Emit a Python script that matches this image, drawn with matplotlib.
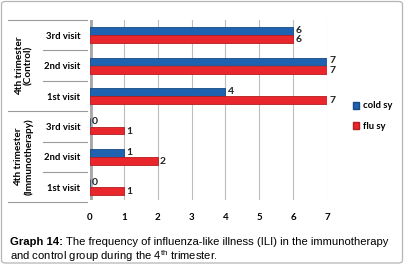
import matplotlib
matplotlib.use("Agg")
import matplotlib.pyplot as plt
import matplotlib.transforms as mtransforms
from matplotlib.patches import FancyBboxPatch, Patch
import numpy as np

plt.rcParams["mathtext.fontset"] = "custom"
plt.rcParams["mathtext.rm"] = "Liberation Sans"

# ---- data ----
visits = ["1st visit", "2nd visit", "3rd visit", "1st visit", "2nd visit", "3rd visit"]  # bottom -> top
groups = ["4th trimester\n(Immunotherapy)", "4th trimester\n(Control)"]
cold_sy = [0, 1, 0, 4, 7, 6]
flu_sy = [1, 2, 1, 7, 7, 6]
xticks = [0, 1, 2, 3, 4, 5, 6, 7]

W, H = 404, 273
fig = plt.figure(figsize=(W / 100, H / 100), dpi=100)
ax = fig.add_axes([90 / W, 1 - 200 / H, (327 - 90) / W, 180 / H])

blue = "#1f62b0"
red = "#e8262b"
y = np.arange(len(visits))
bh = 0.26
off = 0.135
ax.barh(y + off, cold_sy, height=bh, color=blue, edgecolor="#174a85", linewidth=0.6, zorder=3)
ax.barh(y - off, flu_sy, height=bh, color=red, edgecolor="#b51c20", linewidth=0.6, zorder=3)

lab_font = "Lato"
for yi, v in zip(y, cold_sy):
    ax.text(v + 0.06, yi + off + 0.02, str(v), va="center", ha="left", fontsize=7.5,
            family=lab_font, fontweight="bold", color="#222222")
for yi, v in zip(y, flu_sy):
    ax.text(v + 0.06, yi - off - 0.02, str(v), va="center", ha="left", fontsize=7.5,
            family=lab_font, fontweight="bold", color="#222222")

ax.set_xlim(0, 7)
ax.set_ylim(-0.42, 5.5)
ax.set_xticks(xticks)
ax.set_xticklabels([str(t) for t in xticks], fontsize=7, family=lab_font, fontweight="bold")
ax.set_yticks(y)
ax.set_yticklabels(visits, fontsize=6.8, family=lab_font, fontweight="bold")
ax.tick_params(axis="x", length=0, pad=9)
ax.tick_params(axis="y", length=0, pad=7)
for s in ax.spines.values():
    s.set_visible(False)
ax.grid(axis="x", color="#bdbdbd", linewidth=0.8, zorder=0)
# wall
ax.axvline(0, color="#a8a8a8", linewidth=3.5, zorder=2)

# separators in the category label area
trans = mtransforms.blended_transform_factory(fig.transFigure, ax.transData)
for b in [5.5, 2.5, -0.5]:
    fig.add_artist(plt.Line2D([8 / W, 87 / W], [b, b], transform=trans, color="#9a9a9a", linewidth=0.8))
for b in [4.5, 3.5, 1.5, 0.5]:
    fig.add_artist(plt.Line2D([43 / W, 87 / W], [b, b], transform=trans, color="#9a9a9a", linewidth=0.8))
for g, yc in zip(groups, [1, 4]):
    fig.text(24 / W, yc, g, transform=trans, rotation=90, ha="center", va="center",
             fontsize=7.2, family=lab_font, fontweight="bold", linespacing=1.1)

# legend
handles = [Patch(facecolor=blue, edgecolor="#174a85", label="cold sy"),
           Patch(facecolor=red, edgecolor="#b51c20", label="flu sy")]
fig.legend(handles=handles, loc="upper left", bbox_to_anchor=(344 / W, 1 - 93 / H),
           frameon=False, prop={"family": lab_font, "weight": "bold", "size": 6.8},
           handlelength=0.7, handleheight=0.7, handletextpad=0.4, labelspacing=1.2)

# border
fig.add_artist(FancyBboxPatch((1.5 / W, 10 / H), (W - 3) / W, (H - 11.5) / H,
                              boxstyle="round,pad=0,rounding_size=0.01",
                              transform=fig.transFigure, facecolor="none",
                              edgecolor="#b5b5b5", linewidth=0.9))

# caption
cap_font = "Liberation Sans"
fs = 8.1
t1 = fig.text(10 / W, 1 - 242 / H, "Graph 14:", fontsize=fs, family=cap_font,
              fontweight="bold", va="center")
fig.canvas.draw()
bb = t1.get_window_extent()
fig.text(bb.x1 / W + 2.5 / W, 1 - 242 / H,
         "The frequency of influenza-like illness (ILI) in the immunotherapy",
         fontsize=fs, family=cap_font, va="center")
fig.text(10 / W, 1 - 256 / H, r"and control group during the 4$^{\mathrm{th}}$ trimester.",
         fontsize=fs, family=cap_font, va="center")

fig.savefig("out.png", dpi=100)
